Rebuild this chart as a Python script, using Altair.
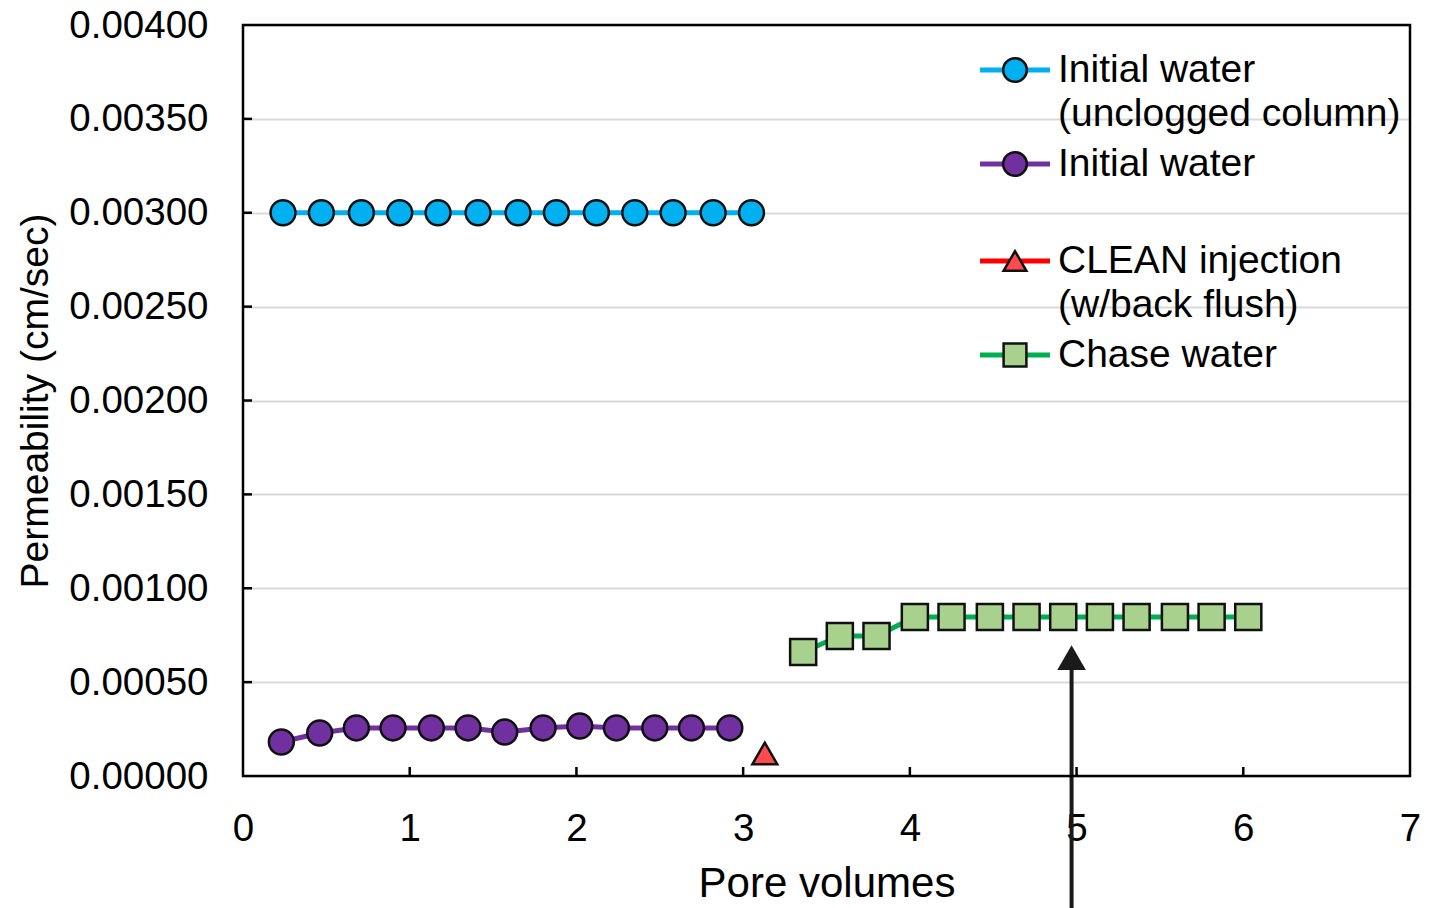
import altair as alt
import pandas as pd

# ---- data ----
blue_x = [0.24, 0.47, 0.71, 0.94, 1.17, 1.41, 1.65, 1.88, 2.12, 2.35, 2.58, 2.82, 3.05]
blue_y = [0.00300, 0.00300, 0.00300, 0.00300, 0.00300, 0.00300, 0.00300,
          0.00300, 0.00300, 0.00300, 0.00300, 0.00300, 0.00300]

purple_x = [0.23, 0.46, 0.68, 0.90, 1.13, 1.35, 1.57, 1.80, 2.02, 2.24, 2.47, 2.69, 2.92]
purple_y = [0.000181, 0.000229, 0.000256, 0.000256, 0.000256, 0.000256, 0.000234,
            0.000256, 0.000266, 0.000256, 0.000256, 0.000256, 0.000256]

red_x = [3.13]
red_y = [0.00012]

green_x = [3.36, 3.58, 3.80, 4.03, 4.25, 4.48, 4.70, 4.92, 5.14, 5.36, 5.59, 5.81, 6.03]
green_y = [0.00066, 0.000746, 0.000746, 0.000847, 0.000847, 0.000847, 0.000847,
           0.000847, 0.000847, 0.000847, 0.000847, 0.000847, 0.000847]

arrow_x = [4.97]
arrow_y = [0.00063]

x_ticks = [0, 1, 2, 3, 4, 5, 6, 7]
y_ticks = [0.0, 0.0005, 0.0010, 0.0015, 0.0020, 0.0025, 0.0030, 0.0035, 0.0040]

series_names = ["Initial water\n(unclogged column)", "Initial water",
                "CLEAN injection\n(w/back flush)", "Chase water"]

FONT = "Liberation Sans"
W, H = 1167, 751

X = alt.X("x:Q", scale=alt.Scale(domain=[0, 7], nice=False, zero=False),
          axis=alt.Axis(values=x_ticks, format="d", title="Pore volumes", grid=False,
                        ticks=False, domain=False, labelFontSize=38.5, labelFont=FONT,
                        labelColor="black", labelPadding=34, titleFont=FONT,
                        titleFontSize=42, titleFontWeight="normal", titleColor="black",
                        titlePadding=16, labelFlush=False))
Y = alt.Y("y:Q", scale=alt.Scale(domain=[0, 0.004], nice=False, zero=True),
          axis=alt.Axis(values=y_ticks, format=".5f", title="Permeability (cm/sec)",
                        grid=True, gridColor="#D9D9D9", gridWidth=2, ticks=False,
                        domain=False, labelFontSize=38.5, labelFont=FONT, labelColor="black",
                        labelPadding=35, titleFont=FONT, titleFontSize=39,
                        titleFontWeight="normal", titleColor="black", titlePadding=13,
                        labelFlush=False))


def series(xs, ys, line_color, fill, shape, size):
    df = pd.DataFrame({"x": xs, "y": ys})
    base = alt.Chart(df)
    line = base.mark_line(color=line_color, strokeWidth=5).encode(x=X, y=Y)
    pts = base.mark_point(shape=shape, size=size, filled=True, fill=fill,
                          stroke="#111111", strokeWidth=2.5, opacity=1).encode(x=X, y=Y)
    return [line, pts]


layers = []
layers += series(blue_x, blue_y, "#00B0F0", "#00B0F0", "circle", 620)
layers += series(purple_x, purple_y, "#7030A0", "#7030A0", "circle", 620)
layers += series(red_x, red_y, "#FF0000", "#FF4B4B", "triangle-up", 620)
layers += series(green_x, green_y, "#00B050", "#A9D18E", "square", 680)

# inner tick marks
xt = pd.DataFrame({"x": x_ticks[1:-1]})
layers.append(alt.Chart(xt).mark_rule(color="black", strokeWidth=2.5).encode(
    x=X, y=alt.value(H), y2=alt.value(H - 9)))
yt = pd.DataFrame({"y": y_ticks[1:-1]})
layers.append(alt.Chart(yt).mark_rule(color="black", strokeWidth=2.5).encode(
    y=Y, x=alt.value(0), x2=alt.value(9)))

# arrow
adf = pd.DataFrame({"x": arrow_x, "y": arrow_y})
layers.append(alt.Chart(adf).mark_rule(color="#1a1a1a", strokeWidth=4).encode(
    x=X, y=Y, y2=alt.value(H + 140)))
layers.append(alt.Chart(adf).mark_point(shape="triangle-up", size=820, filled=True,
                                        fill="#1a1a1a", opacity=1).encode(x=X, y=Y))

# manual legend
leg_colors = [("#00B0F0", "#00B0F0", "circle", 560),
              ("#7030A0", "#7030A0", "circle", 560),
              ("#FF0000", "#FF4B4B", "triangle-up", 520),
              ("#00B050", "#A9D18E", "square", 520)]
row_y = [45, 139, 236, 330]
line_gap = 44
lx0, lx1, lmid, ltext = 737, 807, 772, 815
one = pd.DataFrame({"a": [0]})
for name, (lc, fc, shp, sz), ry in zip(series_names, leg_colors, row_y):
    layers.append(alt.Chart(one).mark_rule(color=lc, strokeWidth=5).encode(
        x=alt.value(lx0), x2=alt.value(lx1), y=alt.value(ry)))
    layers.append(alt.Chart(one).mark_point(shape=shp, size=sz, filled=True, fill=fc,
                                            stroke="#111111", strokeWidth=2.5,
                                            opacity=1).encode(
        x=alt.value(lmid), y=alt.value(ry)))
    for i, ln in enumerate(name.split("\n")):
        layers.append(alt.Chart(one).mark_text(
            text=ln, align="left", baseline="middle", font=FONT, fontSize=39,
            color="black").encode(x=alt.value(ltext), y=alt.value(ry + i * line_gap)))

# plot frame on top of the gridlines
layers.append(alt.Chart(one).mark_rect(fillOpacity=0, stroke="black", strokeWidth=2.5).encode(
    x=alt.value(0), x2=alt.value(W), y=alt.value(0), y2=alt.value(H)))

chart = alt.layer(*layers).properties(
    width=W, height=H,
    autosize=alt.AutoSizeParams(type="none"),
    padding={"left": 243, "top": 25, "right": 32, "bottom": 132},
    background="white",
).configure_view(stroke=None)

chart.save("out.html", embed_options={"renderer": "svg", "actions": False})
